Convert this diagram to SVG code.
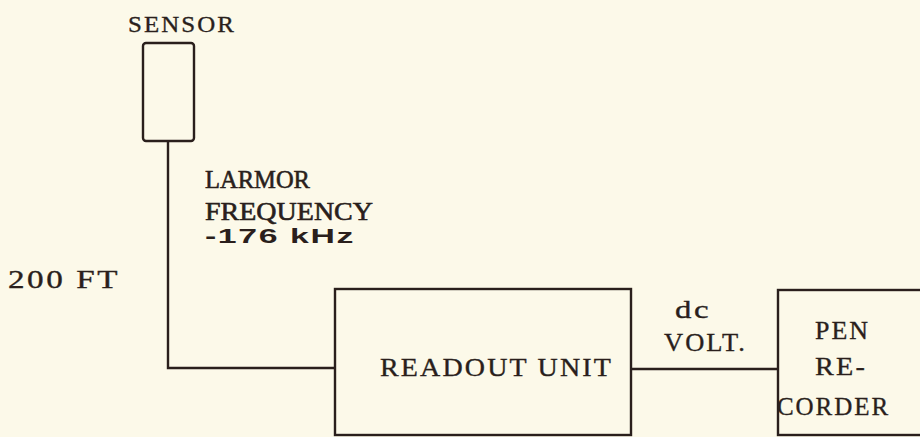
<svg xmlns="http://www.w3.org/2000/svg" width="920" height="437" viewBox="0 0 920 437">
  <style>
    .bg { fill: #fcf9e9; }
    .box { fill: none; stroke: #2a1f1c; stroke-width: 2.4; }
    .wire { fill: none; stroke: #2a1f1c; stroke-width: 2.4; }
    .tw { font-family: "Liberation Serif", "Times New Roman", serif; font-size: 26px; letter-spacing: 2px; fill: #2a1f1c; stroke: #2a1f1c; stroke-width: 0.35; }
    .sf { font-family: "Liberation Serif", "Times New Roman", serif; font-size: 26px; fill: #2a1f1c; stroke: #2a1f1c; stroke-width: 0.6; }
    .ss { font-family: "Liberation Sans", Arial, sans-serif; font-weight: bold; font-size: 21px; letter-spacing: 1px; fill: #2a1f1c; }
  </style>
  <rect class="bg" x="0" y="0" width="920" height="437"/>
  <g id="connectors">
    <polyline class="wire" points="168,141 168,368 335,368"/>
    <line class="wire" x1="631" y1="369" x2="778" y2="369"/>
  </g>
  <g id="sensor">
    <rect class="box" x="143" y="43" width="51" height="98" rx="3"/>
    <text class="tw" x="128" y="32" textLength="108" lengthAdjust="spacingAndGlyphs" style="font-size:24px">SENSOR</text>
  </g>
  <g id="larmor-label">
    <text class="sf" x="205" y="188" textLength="105" lengthAdjust="spacingAndGlyphs">LARMOR</text>
    <text class="sf" x="205" y="220" textLength="168" lengthAdjust="spacingAndGlyphs">FREQUENCY</text>
    <text class="ss" x="205" y="243" textLength="150" lengthAdjust="spacingAndGlyphs">-176 kHz</text>
  </g>
  <g id="length-label">
    <text class="tw" x="8" y="288" textLength="112" lengthAdjust="spacingAndGlyphs">200 FT</text>
  </g>
  <g id="readout">
    <rect class="box" x="335" y="289" width="296" height="146"/>
    <text class="tw" x="380" y="376" textLength="233" lengthAdjust="spacingAndGlyphs">READOUT UNIT</text>
  </g>
  <g id="dc-label">
    <text class="tw" x="675" y="318" textLength="36" lengthAdjust="spacingAndGlyphs">dc</text>
    <text class="tw" x="664" y="351" textLength="83" lengthAdjust="spacingAndGlyphs">VOLT.</text>
  </g>
  <g id="pen-recorder">
    <rect class="box" x="778" y="290" width="160" height="145"/>
    <text class="tw" x="815" y="339" textLength="55" lengthAdjust="spacingAndGlyphs">PEN</text>
    <text class="tw" x="815" y="375" textLength="52" lengthAdjust="spacingAndGlyphs">RE-</text>
    <text class="tw" x="777" y="415" textLength="113" lengthAdjust="spacingAndGlyphs">CORDER</text>
  </g>
</svg>
